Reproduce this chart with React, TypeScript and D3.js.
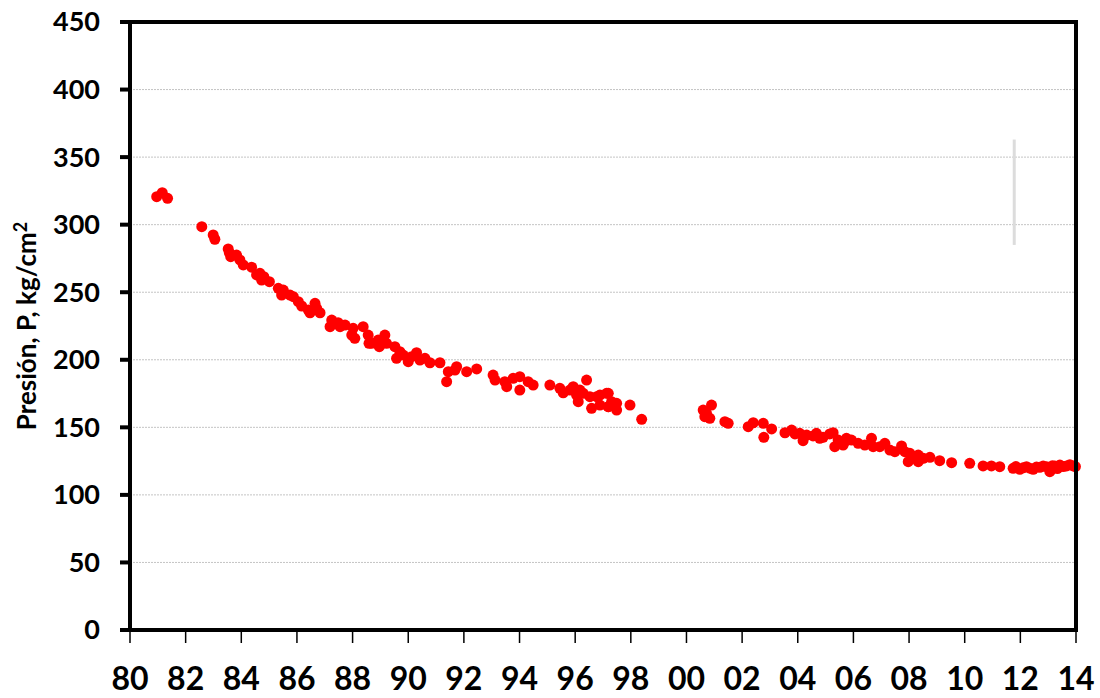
import * as d3 from "d3";

// pressure history, decimal year vs P (kg/cm2)
const years = [
  1980.96, 1981.16, 1981.35, 1982.58, 1982.99, 1983.05, 1983.53, 1983.57, 1983.62, 1983.83,
  1983.95, 1984.07, 1984.37, 1984.55, 1984.67, 1984.73, 1984.81, 1985.01, 1985.33, 1985.45,
  1985.51, 1985.75, 1985.87, 1986.05, 1986.17, 1986.41, 1986.47, 1986.65, 1986.71, 1986.83,
  1987.25, 1987.19, 1987.48, 1987.55, 1987.73, 1988.02, 1987.97, 1988.08, 1988.38, 1988.56,
  1988.59, 1988.92, 1988.96, 1988.68, 1988.98, 1989.16, 1989.22, 1989.52, 1989.7, 1989.58,
  1989.82, 1990.0, 1990.12, 1990.3, 1990.42, 1990.6, 1990.78, 1991.14, 1991.44, 1991.38,
  1991.74, 1991.68, 1992.1, 1992.46, 1993.05, 1993.12, 1993.47, 1993.54, 1993.77, 1994.01,
  1994.01, 1994.31, 1994.49, 1995.09, 1995.45, 1995.57, 1995.81, 1995.93, 1996.05, 1996.17,
  1996.11, 1996.41, 1996.29, 1996.53, 1996.59, 1996.77, 1996.89, 1997.19, 1997.19, 1997.49,
  1997.49, 1996.89, 1997.13, 1997.19, 1997.31, 1997.43, 1997.97, 1998.39,
  2000.6, 2000.66, 2000.9, 2000.84, 2000.72, 2001.38, 2001.5, 2002.22, 2002.4, 2002.76,
  2003.06, 2002.78, 2003.54, 2003.78, 2003.9, 2004.07, 2004.19, 2004.32, 2004.55, 2004.67,
  2004.79, 2004.91, 2005.15, 2005.27, 2005.33, 2005.45, 2005.69, 2005.75, 2005.63, 2005.93,
  2006.17, 2006.41, 2006.65, 2006.71, 2006.95, 2007.13, 2007.31, 2007.49, 2007.73, 2007.85,
  2008.03, 2007.97, 2008.15, 2008.33, 2008.33, 2008.51, 2008.75, 2009.1, 2009.53, 2010.18,
  2010.66, 2010.96, 2011.26, 2011.74, 2011.84, 2011.98, 2012.1, 2012.22, 2012.34, 2012.46,
  2012.58, 2012.7, 2012.82, 2012.94, 2013.06, 2013.15, 2013.24, 2013.33, 2013.42, 2013.54,
  2013.66, 2013.78, 2013.9, 2013.98,
];

const pressures = [
  320.7, 323.7, 319.5, 298.5, 292.4, 289.2, 282.0, 279.3, 276.3, 277.5,
  273.9, 270.2, 268.5, 262.8, 264.0, 259.0, 261.5, 257.8, 252.9, 247.9,
  251.6, 247.9, 246.7, 243.0, 239.8, 236.8, 234.8, 241.8, 238.1, 234.8,
  229.4, 224.5, 227.4, 224.5, 225.7, 223.3, 218.3, 215.9, 224.5, 218.3,
  212.2, 214.6, 209.7, 212.2, 210.9, 218.3, 212.2, 209.7, 206.0, 201.1,
  203.5, 198.6, 202.3, 205.2, 199.8, 201.1, 197.8, 197.8, 191.2, 183.8,
  194.9, 192.4, 191.2, 193.2, 188.7, 185.0, 183.8, 180.1, 186.3, 187.5,
  177.6, 183.8, 181.3, 181.3, 178.9, 175.6, 177.6, 180.1, 173.9, 177.6,
  169.0, 185.0, 175.2, 172.7, 164.1, 172.7, 166.5, 175.2, 165.3, 162.8,
  167.8, 173.9, 175.2, 165.3, 169.0, 166.5, 166.5, 155.9,
  162.8, 157.9, 166.5, 156.7, 160.4, 154.2, 153.0, 150.5, 153.4, 153.0,
  148.8, 142.6, 146.0, 148.0, 145.1, 145.6, 140.1, 144.3, 143.6, 145.6,
  141.9, 142.6, 145.1, 146.0, 135.7, 140.6, 139.4, 141.9, 136.9, 140.6,
  138.2, 136.9, 141.9, 135.7, 135.7, 138.2, 133.2, 132.0, 136.2, 132.0,
  130.8, 124.6, 128.3, 129.5, 124.6, 127.1, 127.8, 125.3, 123.8, 123.4,
  121.4, 121.4, 120.9, 119.7, 121.0, 118.9, 120.0, 120.9, 119.8, 118.9,
  120.6, 120.4, 121.3, 120.9, 117.2, 121.5, 121.4, 119.5, 122.1, 121.0,
  121.4, 122.3, 121.4, 121.0,
];

const yTicks = [0, 50, 100, 150, 200, 250, 300, 350, 400, 450];
const xTickYears = d3.range(1980, 2015, 2);

// faint stray vertical mark in the original
const markYear = 2011.78;
const markRange = [285, 363];

const W = 1100;
const H = 698;
const left = 130;
const right = 1076;
const top = 22;
const bottom = 630;

export default function App() {
  const x = d3.scaleLinear([1980, 2014], [left, right]);
  const y = d3.scaleLinear([0, 450], [bottom, top]);
  const font = "Lato, 'DejaVu Sans', sans-serif";

  return (
    <>
      <style>{`body{margin:0}`}</style>
      <svg width={W} height={H} style={{ display: "block", background: "#fff" }}>
        {/* dotted grid */}
        <g stroke="#c4c4c4" strokeWidth={1} strokeDasharray="2 1">
          {yTicks.slice(1, -1).map((t) => (
            <line key={t} x1={left} x2={right} y1={y(t)} y2={y(t)} />
          ))}
        </g>

        <line
          x1={x(markYear)}
          x2={x(markYear)}
          y1={y(markRange[0])}
          y2={y(markRange[1])}
          stroke="#dcdcdc"
          strokeWidth={3}
        />

        <g fill="#ff0000">
          {years.map((yr, i) => (
            <circle key={i} cx={x(yr)} cy={y(pressures[i])} r={5.5} />
          ))}
        </g>

        {/* frame */}
        <rect
          x={left}
          y={top}
          width={right - left}
          height={bottom - top}
          fill="none"
          stroke="#000"
          strokeWidth={4}
        />

        {/* y ticks */}
        <g>
          {yTicks.map((t) => (
            <g key={t}>
              <line x1={left - 10} x2={left} y1={y(t)} y2={y(t)} stroke="#000" strokeWidth={4} />
              <text
                x={left - 30}
                y={y(t)}
                dy="0.35em"
                textAnchor="end"
                fontFamily={font}
                fontWeight="bold"
                fontSize={27}
              >
                {t}
              </text>
            </g>
          ))}
        </g>

        {/* x ticks */}
        <g>
          {xTickYears.map((t) => (
            <g key={t}>
              <line x1={x(t)} x2={x(t)} y1={bottom} y2={bottom + 13} stroke="#000" strokeWidth={1.5} />
              <text
                x={x(t)}
                y={bottom + 60}
                textAnchor="middle"
                fontFamily={font}
                fontWeight="bold"
                fontSize={32}
              >
                {String(t % 100).padStart(2, "0")}
              </text>
            </g>
          ))}
        </g>

        <text
          transform={`translate(36,${(top + bottom) / 2}) rotate(-90)`}
          textAnchor="middle"
          fontFamily={font}
          fontWeight="bold"
          fontSize={26}
        >
          Presión, P, kg/cm<tspan fontSize={18} dy={-9}>2</tspan>
        </text>
      </svg>
    </>
  );
}
